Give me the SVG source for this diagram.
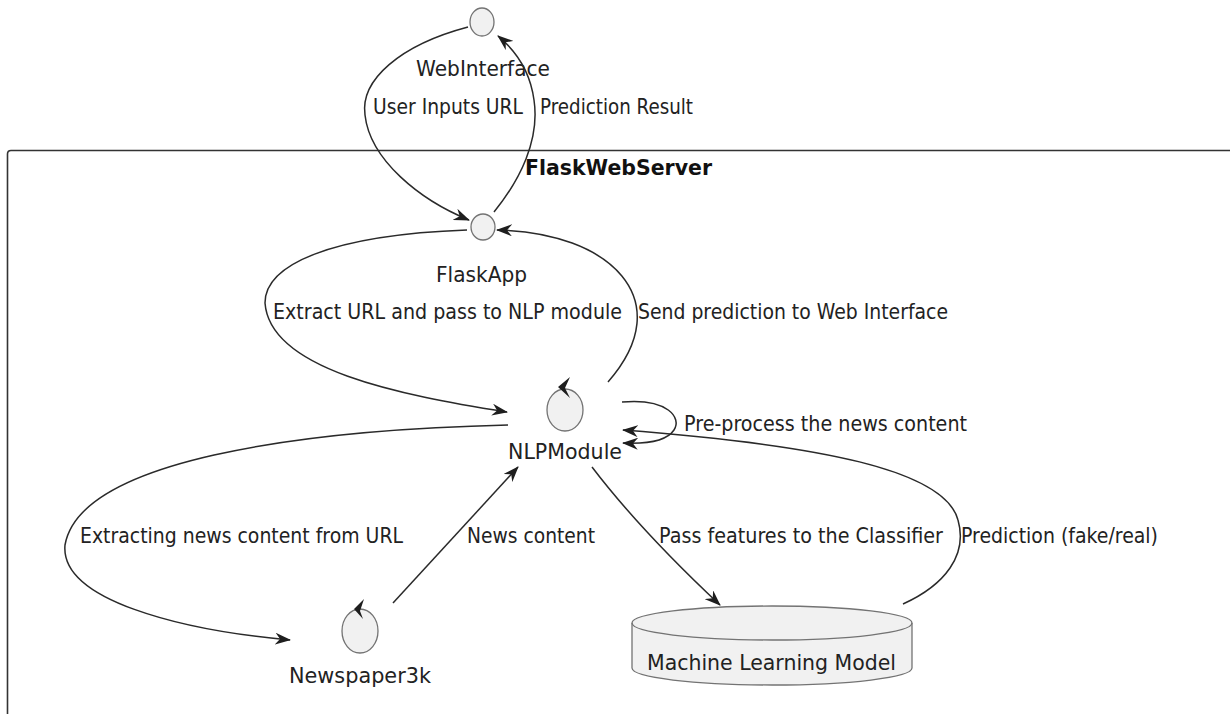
<svg xmlns="http://www.w3.org/2000/svg" width="1230" height="714" viewBox="0 0 1230 714">
<style>
.node-shape{fill:#F1F1F1;stroke:#737373;stroke-width:1.3}
.lbl{font-family:"DejaVu Sans","Liberation Sans",sans-serif;font-size:22px;fill:#222}
.elbl{font-family:"DejaVu Sans","Liberation Sans",sans-serif;font-size:21px;fill:#222}
.edge{fill:none;stroke:#2A2A2A;stroke-width:1.5;marker-end:url(#ah)}
.ctrl{fill:#1E1E1E}
</style>
<defs>
<marker id="ah" viewBox="0 0 16 12" refX="15" refY="6" markerWidth="16" markerHeight="12" markerUnits="userSpaceOnUse" orient="auto">
<path d="M0,0 L16,6 L0,12 L5,6 Z" fill="#1E1E1E"/>
</marker>
</defs>
<rect width="1230" height="714" fill="#FFFFFF"/>
<g id="FlaskWebServer">
<path d="M7.5,714 L7.5,154 Q7.5,150.5 11,150.5 L1230,150.5" fill="none" stroke="#333" stroke-width="1.6"/>
<text x="525" y="175" font-family="DejaVu Sans, Liberation Sans, sans-serif" font-size="21" font-weight="bold" fill="#111" textLength="187" lengthAdjust="spacingAndGlyphs">FlaskWebServer</text>
</g>
<g id="WebInterface">
<ellipse class="node-shape" cx="482" cy="22" rx="12" ry="14"/>
<text class="lbl" x="416" y="76" textLength="134" lengthAdjust="spacingAndGlyphs">WebInterface</text>
</g>
<g id="FlaskApp">
<ellipse class="node-shape" cx="483" cy="227" rx="12" ry="13"/>
<text class="lbl" x="436" y="282" textLength="91" lengthAdjust="spacingAndGlyphs">FlaskApp</text>
</g>
<g id="NLPModule">
<ellipse class="node-shape" cx="565" cy="410" rx="18" ry="21"/>
<polygon class="ctrl" points="558,387 570,377 565,388 570,398"/>
<text class="lbl" x="508" y="459" textLength="114" lengthAdjust="spacingAndGlyphs">NLPModule</text>
</g>
<g id="Newspaper3k">
<ellipse class="node-shape" cx="360" cy="631" rx="18" ry="22"/>
<polygon class="ctrl" points="354,609 364,599 360,611 363,619"/>
<text class="lbl" x="289" y="683" textLength="142" lengthAdjust="spacingAndGlyphs">Newspaper3k</text>
</g>
<g id="MachineLearningModel">
<path class="node-shape" d="M632,623 A140,17 0 0,1 912,623 L912,668 A140,17 0 0,1 632,668 Z"/>
<path d="M632,623 A140,17 0 0,0 912,623" fill="none" stroke="#737373" stroke-width="1.3"/>
<text class="lbl" x="647" y="670" textLength="249" lengthAdjust="spacingAndGlyphs">Machine Learning Model</text>
</g>
<g id="connectors">
<path class="edge" d="M468,27 C400,45 360,80 365,115 C370,160 420,200 469,220"/>
<path class="edge" d="M494,212 C520,180 540,140 534,100 C530,70 515,50 498,36"/>
<path class="edge" d="M467,230 C330,235 265,265 265,303 C270,370 400,395 507,412"/>
<path class="edge" d="M608,382 C680,300 610,232 497,230"/>
<path class="edge" d="M622,402 C668,398 682,418 674,430 C666,442 645,444 623,443"/>
<path class="edge" d="M903,604 C945,585 968,555 958,520 C945,470 820,445 623,430"/>
<path class="edge" d="M508,425 C300,430 80,460 65,545 C60,600 180,630 290,640"/>
<path class="edge" d="M393,603 L518,467"/>
<path class="edge" d="M592,467 Q640,530 720,605"/>
<text class="elbl" x="373" y="114" textLength="150" lengthAdjust="spacingAndGlyphs">User Inputs URL</text>
<text class="elbl" x="540" y="114" textLength="153" lengthAdjust="spacingAndGlyphs">Prediction Result</text>
<text class="elbl" x="273" y="319" textLength="349" lengthAdjust="spacingAndGlyphs">Extract URL and pass to NLP module</text>
<text class="elbl" x="638" y="319" textLength="310" lengthAdjust="spacingAndGlyphs">Send prediction to Web Interface</text>
<text class="elbl" x="684" y="431" textLength="283" lengthAdjust="spacingAndGlyphs">Pre-process the news content</text>
<text class="elbl" x="80" y="543" textLength="323" lengthAdjust="spacingAndGlyphs">Extracting news content from URL</text>
<text class="elbl" x="467" y="543" textLength="128" lengthAdjust="spacingAndGlyphs">News content</text>
<text class="elbl" x="659" y="543" textLength="284" lengthAdjust="spacingAndGlyphs">Pass features to the Classifier</text>
<text class="elbl" x="961" y="543" textLength="197" lengthAdjust="spacingAndGlyphs">Prediction (fake/real)</text>
</g>
</svg>
